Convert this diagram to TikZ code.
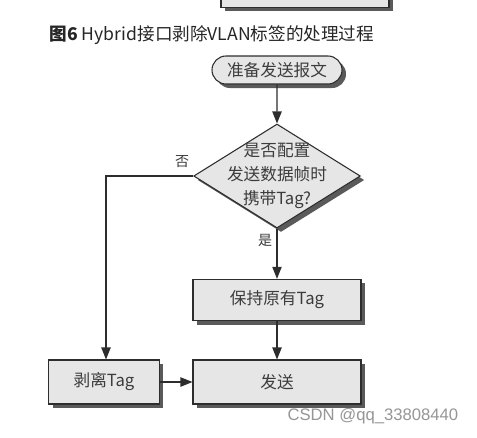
\documentclass[tikz,border=0pt]{standalone}
\usepackage{fontspec}
\setmainfont{Noto Sans CJK SC}
\setsansfont{Liberation Sans}
\usetikzlibrary{arrows.meta,positioning,shapes.geometric,shapes.misc,shadows}
\definecolor{boxgray}{RGB}{230,230,230}
\definecolor{edge}{RGB}{45,45,45}
\definecolor{shade}{RGB}{90,90,90}
\definecolor{mark}{RGB}{150,150,150}
\definecolor{words}{RGB}{60,60,60}
\tikzset{
  >={Triangle[length=9pt,width=7pt]},
  shade/.style={drop shadow={shadow xshift=3pt,shadow yshift=-3pt,fill=shade,opacity=1}},
  stepbox/.style={rectangle,draw=edge,fill=boxgray,thick,shade,text=words,
    minimum width=126pt,minimum height=#1,font=\fontsize{12.5}{15}\selectfont},
  stepbox/.default=31pt,
  term/.style={rounded rectangle,draw=edge,fill=boxgray,thick,shade,text=words,
    minimum width=97.5pt,minimum height=21pt,inner sep=0pt,font=\fontsize{12.5}{15}\selectfont},
  decide/.style={diamond,draw=edge,fill=boxgray,thick,shade,
    minimum width=125pt,minimum height=78pt,inner sep=0pt},
  flow/.style={->,thick,draw=edge},
  tag/.style={font=\fontsize{10.5}{12}\selectfont,text=words},
}
\begin{document}
\begin{tikzpicture}[x=0.75pt,y=-0.75pt]
  \clip (0,0) rectangle (477,437);
  \fill[white] (0,0) rectangle (477,437);
  % piece of the figure above
  \node[rectangle,draw=edge,fill=boxgray,thick,shade,minimum width=126pt,minimum height=20pt,anchor=south] (prev) at (305,8) {};
  % caption
  \node[anchor=west,font=\fontsize{13.2}{15}\selectfont,text=black!85] (title) at (45,35) {\textbf{图6} Hybrid接口剥除VLAN标签的处理过程};
  % flow
  \node[term] (start) at (277,70) {准备发送报文};
  \node[decide] (dec) at (277,176) {};
  \node[align=center,text=words,font=\fontsize{12.5}{18}\selectfont] (q) at (277,176) {是否配置\\发送数据帧时\\携带Tag?};
  \node[stepbox] (keep) at (277,300) {保持原有Tag};
  \node[stepbox=33pt] (send) at (277,382) {发送};
  \node[stepbox=33pt,minimum width=83pt] (strip) at (104,382) {剥离Tag};
  \draw[flow] (start) -- (dec.north);
  \draw[flow] (dec.south) -- (keep);
  \draw[flow] (keep) -- (send);
  \draw[flow] (strip) -- (send);
  \draw[flow] (dec.west) -| ([xshift=1.5pt]strip.north);
  \node[tag] (no) at (182,162) {否};
  \node[tag] (yes) at (265,240) {是};
  % watermark
  \node[anchor=east,font=\sffamily\fontsize{12.5}{15}\selectfont,text=mark] (wm) at (463,416) {CSDN @qq\_33808440};
\end{tikzpicture}
\end{document}
